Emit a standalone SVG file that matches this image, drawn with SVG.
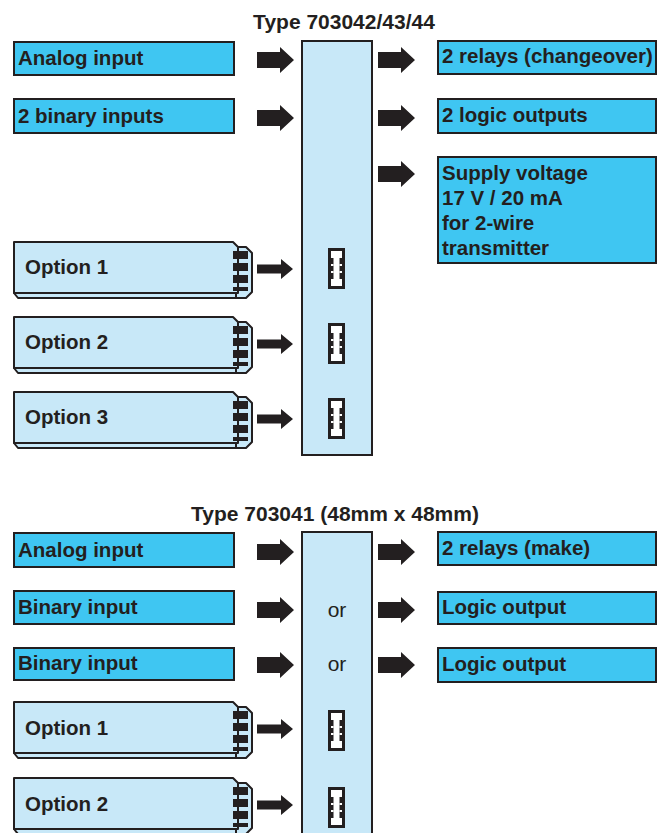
<svg xmlns="http://www.w3.org/2000/svg" xmlns:xlink="http://www.w3.org/1999/xlink" width="657" height="833" viewBox="0 0 657 833">
<style>
  .box{fill:#3FC6F2;stroke:#231F20;stroke-width:2}
  .blk{fill:#C8E8F8;stroke:#231F20;stroke-width:2}
  .lb{fill:#C8E8F8;stroke:#231F20;stroke-width:2;stroke-linejoin:round}
  .t{font-family:"Liberation Sans",Arial,sans-serif;font-weight:bold;font-size:20.5px;fill:#231F20}
  .title{font-family:"Liberation Sans",Arial,sans-serif;font-weight:bold;font-size:21px;fill:#231F20;text-anchor:middle}
  .or{font-family:"Liberation Sans",Arial,sans-serif;font-size:21px;fill:#231F20;text-anchor:middle}
  .arr{fill:#231F20}
</style>
<defs>
  <path id="bigArrow" d="M0,-8 H23 V-13 L37,0 L23,13 V8 H0 Z"/>
  <path id="smallArrow" d="M0,-4.5 H24 V-10 L36,0 L24,10 V4.5 H0 Z"/>
  <g id="card">
    <polygon class="lb" points="14,51 238,51 242,56 18,56"/>
    <polygon class="lb" points="236,5 246,5 252,11 252,50 246,56 236,56"/>
    <polygon class="lb" points="14,0 233,0 238,5 238,51 14,51"/>
    <rect x="233" y="9" width="15" height="8" fill="#231F20"/>
    <rect x="233" y="21" width="15" height="8" fill="#231F20"/>
    <rect x="233" y="33" width="15" height="8" fill="#231F20"/>
    <rect x="233" y="45" width="15" height="4" fill="#231F20"/>
  </g>
  <g id="socket">
    <rect x="328" y="0" width="17" height="41" fill="#231F20"/>
    <rect x="331" y="3" width="11" height="35" fill="#FFFFFF"/>
    <rect x="331" y="10" width="2.5" height="21" fill="#231F20"/>
    <rect x="339.5" y="10" width="2.5" height="21" fill="#231F20"/>
    <rect x="331" y="16" width="2.5" height="2" fill="#FFFFFF"/>
    <rect x="339.5" y="16" width="2.5" height="2" fill="#FFFFFF"/>
    <rect x="331" y="23" width="2.5" height="2" fill="#FFFFFF"/>
    <rect x="339.5" y="23" width="2.5" height="2" fill="#FFFFFF"/>
  </g>
</defs>

<!-- ===== Top section ===== -->
<text class="title" x="344" y="29">Type 703042/43/44</text>

<g id="top-device"><rect class="blk" x="302" y="41" width="70" height="414"/></g>

<g id="top-analog-input"><rect class="box" x="14" y="42" width="220" height="33"/><text class="t" x="18" y="65">Analog input</text></g>
<g id="top-binary-inputs"><rect class="box" x="14" y="99" width="220" height="34"/><text class="t" x="18" y="123">2 binary inputs</text></g>

<g id="top-relays"><rect class="box" x="438" y="41" width="218" height="33"/><text class="t" x="442" y="63">2 relays (changeover)</text></g>
<g id="top-logic-outputs"><rect class="box" x="438" y="99" width="218" height="34"/><text class="t" x="442" y="122">2 logic outputs</text></g>
<g id="top-supply"><rect class="box" x="438" y="157" width="218" height="106"/>
  <text class="t" x="442" y="180">Supply voltage</text>
  <text class="t" x="442" y="205">17 V / 20 mA</text>
  <text class="t" x="442" y="230">for 2-wire</text>
  <text class="t" x="442" y="255">transmitter</text>
</g>

<g id="top-option1"><use xlink:href="#card" y="242"/><text class="t" x="25" y="274">Option 1</text><use xlink:href="#socket" y="248"/></g>
<g id="top-option2"><use xlink:href="#card" y="317"/><text class="t" x="25" y="349">Option 2</text><use xlink:href="#socket" y="323"/></g>
<g id="top-option3"><use xlink:href="#card" y="392"/><text class="t" x="25" y="424">Option 3</text><use xlink:href="#socket" y="398"/></g>

<!-- ===== Bottom section ===== -->
<text class="title" x="335" y="521">Type 703041 (48mm x 48mm)</text>

<g id="bottom-device"><rect class="blk" x="302" y="532" width="70" height="320"/>
  <text class="or" x="337" y="617">or</text>
  <text class="or" x="337" y="671">or</text>
</g>

<g id="bottom-analog-input"><rect class="box" x="14" y="533" width="220" height="34"/><text class="t" x="18" y="557">Analog input</text></g>
<g id="bottom-binary-input1"><rect class="box" x="14" y="591" width="220" height="33"/><text class="t" x="18" y="614">Binary input</text></g>
<g id="bottom-binary-input2"><rect class="box" x="14" y="648" width="220" height="32"/><text class="t" x="18" y="670">Binary input</text></g>

<g id="bottom-relays"><rect class="box" x="438" y="532" width="218" height="33"/><text class="t" x="442" y="555">2 relays (make)</text></g>
<g id="bottom-logic-output1"><rect class="box" x="438" y="592" width="218" height="32"/><text class="t" x="442" y="614">Logic output</text></g>
<g id="bottom-logic-output2"><rect class="box" x="438" y="648" width="218" height="34"/><text class="t" x="442" y="671">Logic output</text></g>

<g id="bottom-option1"><use xlink:href="#card" y="702"/><text class="t" x="25" y="735">Option 1</text><use xlink:href="#socket" y="710"/></g>
<g id="bottom-option2"><use xlink:href="#card" y="778"/><text class="t" x="25" y="811">Option 2</text><use xlink:href="#socket" y="787"/></g>

<!-- ===== Connectors ===== -->
<g id="connectors" class="arr">
  <use xlink:href="#bigArrow" x="257" y="60"/>
  <use xlink:href="#bigArrow" x="257" y="118"/>
  <use xlink:href="#bigArrow" x="378" y="60"/>
  <use xlink:href="#bigArrow" x="378" y="118"/>
  <use xlink:href="#bigArrow" x="378" y="174"/>
  <use xlink:href="#smallArrow" x="257" y="269"/>
  <use xlink:href="#smallArrow" x="257" y="344"/>
  <use xlink:href="#smallArrow" x="257" y="419"/>

  <use xlink:href="#bigArrow" x="257" y="552"/>
  <use xlink:href="#bigArrow" x="257" y="610"/>
  <use xlink:href="#bigArrow" x="257" y="665"/>
  <use xlink:href="#bigArrow" x="378" y="552"/>
  <use xlink:href="#bigArrow" x="378" y="610"/>
  <use xlink:href="#bigArrow" x="378" y="665"/>
  <use xlink:href="#smallArrow" x="257" y="729"/>
  <use xlink:href="#smallArrow" x="257" y="805"/>
</g>
</svg>
